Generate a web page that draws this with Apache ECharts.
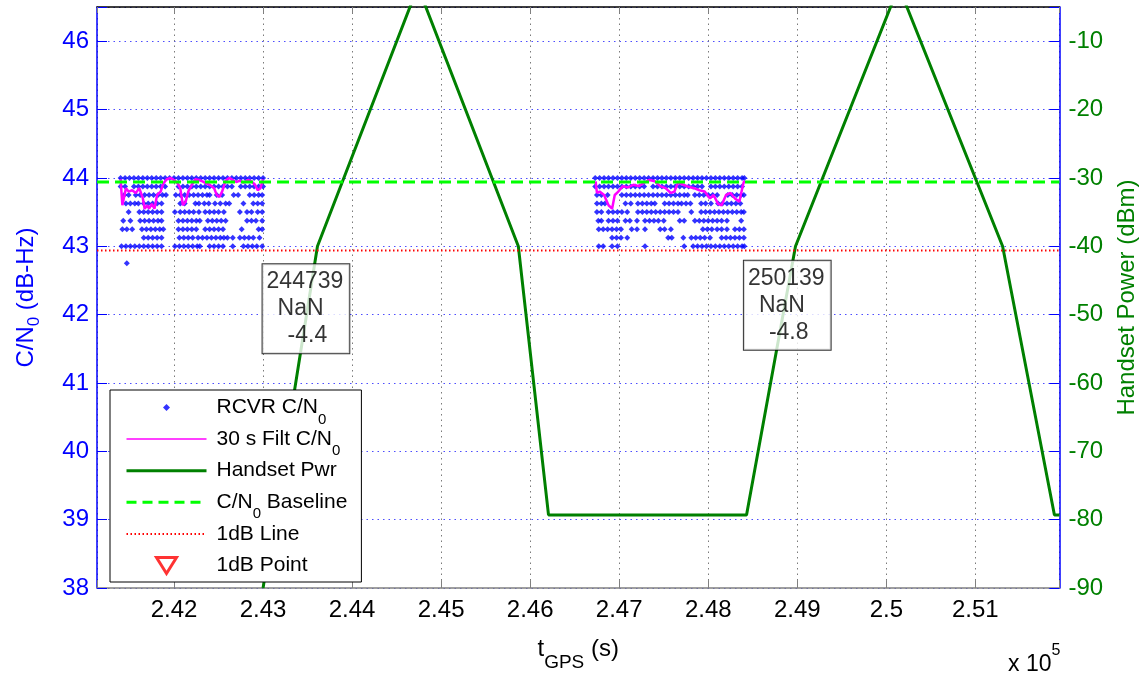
<!DOCTYPE html>
<html><head><meta charset="utf-8">
<script src="https://cdn.jsdelivr.net/npm/echarts@6/dist/echarts.min.js"></script>
<style>html,body{margin:0;padding:0;background:#fff}#c{width:1148px;height:677px}</style>
</head><body><div id="c"></div><script>
// ---------- data ----------
const X_MIN = 241135, X_MAX = 251944;
const LEFT_MIN = 38, LEFT_MAX = 46.5;
const RIGHT_MIN = -90, RIGHT_MAX = -5;

const cnLevels = [44.0, 43.875, 43.75, 43.625, 43.5, 43.375, 43.25, 43.125, 43.0];
const cnTimes1 = [
 [241400,241450,241500,241550,241600,241650,241700,241750,241800,241850,241900,241950,242000,242050,242100,242150,242200,242250,242300,242350,242400,242450,242500,242550,242600,242650,242700,242750,242800,242850,242900,242950,243000],
 [241400,241450,241550,241600,241650,241700,241750,241800,241850,241900,242050,242100,242150,242200,242250,242300,242350,242400,242450,242500,242550,242600,242650,242750,242800,242850,242900,242950,243000],
 [241440,241490,241570,241620,241670,241720,241770,241820,241870,241910,242020,242070,242120,242170,242220,242270,242320,242370,242400,242480,242540,242670,242720,242850,242900,242950,242990],
 [241460,241510,241560,241600,241660,241710,241760,241810,241860,242070,242120,242240,242280,242340,242390,242460,242520,242580,242620,242780,242890,242940,242990],
 [241490,241610,241660,241710,241760,241810,241860,242010,242070,242120,242170,242220,242280,242350,242400,242450,242500,242560,242740,242820,242870,242940,242990],
 [241430,241510,241620,241670,241720,241770,241820,241860,242050,242100,242150,242200,242250,242290,242380,242430,242480,242530,242580,242820,242870,242920,242990],
 [241420,241470,241530,241640,241690,241740,241790,241840,241880,242050,242100,242150,242200,242250,242350,242400,242450,242500,242550,242760,242950,242990],
 [241660,241710,241760,241810,241860,242060,242110,242160,242210,242270,242320,242370,242420,242470,242520,242560,242600,242660,242740,242790,242840,242890,242960],
 [241410,241460,241510,241560,241610,241660,241710,241760,241810,241860,242010,242060,242110,242160,242210,242260,242290,242400,242450,242500,242550,242660,242780,242830,242880,242930,242990]
];
const cnTimes2 = [
 [246730,246780,246830,246880,246930,246980,247030,247080,247130,247180,247230,247280,247330,247380,247430,247480,247530,247580,247630,247680,247730,247780,247830,247880,247930,247980,248030,248080,248130,248180,248230,248280,248330,248380,248405],
 [246730,246780,246830,246880,246930,246980,247030,247080,247130,247180,247230,247280,247380,247430,247480,247530,247580,247630,247680,247730,247780,247830,247880,247930,248030,248080,248130,248180,248230,248280,248330,248380],
 [246750,246800,246870,247030,247080,247130,247180,247230,247280,247330,247380,247430,247480,247530,247580,247630,247680,247730,247770,247850,247900,247950,248000,248050,248100,248220,248270,248320,248370,248400],
 [246750,246800,246840,247070,247130,247210,247260,247310,247360,247400,247510,247560,247610,247660,247700,247750,247800,247920,247970,248030,248110,248160,248210,248260,248310,248360],
 [246750,246800,246880,246930,246980,247030,247090,247210,247260,247310,247360,247410,247460,247510,247560,247610,247660,247810,247920,247970,248020,248070,248120,248170,248220,248270,248320,248370,248400],
 [246765,246800,246880,246930,246980,247070,247120,247200,247290,247340,247390,247440,247500,247680,247730,247850,247900,247950,248000,248050,248100,248150,248210,248370],
 [246770,246820,246870,246920,246970,247020,247140,247200,247290,247460,247510,247580,247940,247990,248040,248100,248150,248210,248300,248350,248400],
 [246920,246970,247020,247090,247550,247590,247720,247810,247860,247910,247960,248020,248150,248200,248250,248300,248350,248400],
 [246770,246820,246920,246980,247290,247730,247830,247880,247930,247980,248030,248080,248130,248180,248230,248280,248330,248380,248405]
];
const outlierT = [241470];
const outlierV = [42.75];

const filt1T = [241400,241420,241440,241460,241490,241530,241570,241610,241650,241670,241700,241720,241750,241780,241810,241850,241880,241920,241960,242000,242040,242070,242100,242130,242160,242200,242240,242280,242320,242360,242400,242450,242480,242510,242540,242580,242620,242660,242700,242740,242780,242830,242870,242910,242940,242970,243000];
const filt1V = [43.98,43.6,43.62,43.85,43.8,43.82,43.78,43.85,43.7,43.55,43.6,43.55,43.62,43.55,43.75,43.8,43.92,43.98,44.0,43.97,43.92,43.85,43.6,43.65,43.8,43.9,43.98,43.97,43.95,43.92,43.9,43.85,43.75,43.72,43.8,43.96,44.0,43.97,43.94,43.96,43.93,43.97,43.95,43.9,43.82,43.85,43.98];
const filt2T = [246735,246750,246780,246830,246880,246920,246950,246990,247040,247100,247160,247220,247280,247340,247400,247460,247520,247580,247620,247660,247720,247780,247840,247900,247960,248020,248060,248110,248150,248200,248250,248300,248350,248390,248405];
const filt2V = [43.95,43.78,43.8,43.75,43.6,43.55,43.75,43.8,43.88,43.86,43.9,43.88,43.93,43.97,43.95,43.88,43.85,43.78,43.8,43.93,43.9,43.87,43.85,43.82,43.8,43.7,43.75,43.62,43.6,43.75,43.78,43.7,43.65,43.9,43.96];

const pwrT = [243000,243611,244739,245867,246206,248430,248980,250139,251306,251888,251944];
const pwrP = [-90,-40,-2,-40,-79.3,-79.3,-40,-2,-40,-79.3,-79.3];

const baselineCN = 43.94;
const oneDbCN = 42.94;

const annT = [243000, 248406];
const annV = [42.73, 42.78];
const annLines = [['244739','NaN','-4.4'], ['250139','NaN','-4.8']];

// ---------- build ----------
const FONT = '"Liberation Sans", Arial, Helvetica, sans-serif';
const cnData = [];
[cnTimes1, cnTimes2].forEach(cl => cl.forEach((row, i) => row.forEach(t => cnData.push([t, cnLevels[i]]))));
outlierT.forEach((t, i) => cnData.push([t, outlierV[i]]));
const filt1 = filt1T.map((t, i) => [t, filt1V[i]]);
const filt2 = filt2T.map((t, i) => [t, filt2V[i]]);
const pwr = pwrT.map((t, i) => [t, pwrP[i]]);
const ann = annT.map((t, i) => ({value: [t, annV[i]], lines: annLines[i]}));

const legendRich = {
  s: {fontSize: 15, lineHeight: 16, padding: [24, 0, 0, 0], fontFamily: FONT, color: '#000'}
};
const legendNames = {
  'RCVR C/N0': 'RCVR C/N{s|0}',
  '30 s Filt C/N0': '30 s Filt C/N{s|0}',
  'Handset Pwr': 'Handset Pwr{s| }',
  'C/N0 Baseline': 'C/N{s|0} Baseline',
  '1dB Line': '1dB Line{s| }',
  '1dB Point': '1dB Point{s| }'
};
const noSym = {opacity: 0, color: 'rgba(0,0,0,0)', borderWidth: 0};

const chart = echarts.init(document.getElementById('c'), null, {renderer: 'canvas'});
chart.setOption({
  animation: false,
  backgroundColor: '#fff',
  grid: {left: 97, right: 85, top: 7, bottom: 82, containLabel: false},
  xAxis: [{
    type: 'value', min: X_MIN, max: X_MAX, splitNumber: 10, minInterval: 1000, maxInterval: 1000,
    position: 'bottom',
    axisLine: {show: true, onZero: false, lineStyle: {color: '#808080', width: 1.5}},
    axisTick: {show: true, inside: true, length: 8, lineStyle: {color: '#808080'}},
    axisLabel: {
      margin: 10, color: '#000', fontSize: 24, fontFamily: FONT,
      formatter: v => (Math.round(v) % 1000 === 0) ? String(+(v / 1e5).toFixed(2)) : ''
    },
    splitLine: {show: true, lineStyle: {color: '#7a7a7a', type: [1.5, 4], width: 1}},
    name: 't{s|GPS} (s)', nameLocation: 'middle', nameGap: 32,
    nameTextStyle: {color: '#000', fontSize: 24, fontFamily: FONT, lineHeight: 26,
      rich: {s: {fontSize: 19, lineHeight: 19, padding: [26, 0, 0, 0], fontFamily: FONT, color: '#000'}}}
  }, {
    type: 'value', min: X_MIN, max: X_MAX, splitNumber: 10, minInterval: 1000, maxInterval: 1000,
    position: 'top',
    axisLine: {show: true, onZero: false, lineStyle: {color: '#000', width: 1.5}},
    axisTick: {show: true, inside: true, length: 6, lineStyle: {color: '#808080'}},
    axisLabel: {show: false},
    splitLine: {show: false}
  }],
  yAxis: [{
    type: 'value', min: LEFT_MIN, max: LEFT_MAX, interval: 1, position: 'left',
    axisLine: {show: true, onZero: false, lineStyle: {color: '#0000ff', width: 1.5}},
    axisTick: {show: true, inside: true, length: 10, lineStyle: {color: '#0000ff'}},
    axisLabel: {margin: 8, color: '#0000ff', fontSize: 24, fontFamily: FONT,
      formatter: v => Number.isInteger(v) ? String(v) : ''},
    splitLine: {show: true, lineStyle: {color: '#4d4dff', type: [1.5, 4], width: 1}},
    name: 'C/N{s|0} (dB-Hz)', nameLocation: 'middle', nameRotate: 90, nameGap: 58,
    nameTextStyle: {color: '#0000ff', fontSize: 24, fontFamily: FONT, lineHeight: 26,
      rich: {s: {fontSize: 17, lineHeight: 17, padding: [16, 0, 0, 0], fontFamily: FONT, color: '#0000ff'}}}
  }, {
    type: 'value', min: RIGHT_MIN, max: RIGHT_MAX, interval: 10, position: 'right',
    axisLine: {show: true, onZero: false, lineStyle: {color: '#0000ff', width: 1.5}},
    axisTick: {show: true, inside: true, length: 10, lineStyle: {color: '#0000ff'}},
    axisLabel: {margin: 9, color: '#008000', fontSize: 24, fontFamily: FONT,
      formatter: v => (v % 10 === 0) ? String(v) : ''},
    splitLine: {show: false},
    name: 'Handset Power (dBm)', nameLocation: 'middle', nameRotate: 90, nameGap: 53,
    nameTextStyle: {color: '#008000', fontSize: 24, fontFamily: FONT, lineHeight: 26}
  }],
  legend: {
    orient: 'vertical', left: 110, top: 390,
    padding: [-2, 14, -3, 15],
    itemWidth: 80, itemHeight: 18, itemGap: -7.4,
    backgroundColor: '#fff', borderColor: '#000', borderWidth: 1, borderRadius: 0,
    z: 20,
    selectedMode: false,
    textStyle: {fontSize: 21, lineHeight: 22, fontFamily: FONT, color: '#000', padding: [0, 0, 0, 5], rich: legendRich},
    formatter: n => legendNames[n] || n,
    data: [
      {name: 'RCVR C/N0', icon: 'path://M0,0M80,18M40,5.5L43.5,9L40,12.5L36.5,9Z'},
      {name: '30 s Filt C/N0', lineStyle: {width: 1.5, color: '#ff00ff'}, itemStyle: noSym},
      {name: 'Handset Pwr', lineStyle: {width: 3, color: '#008000'}, itemStyle: noSym},
      {name: 'C/N0 Baseline', lineStyle: {width: 3, color: '#00ff00', type: [10, 6]}, itemStyle: noSym},
      {name: '1dB Line', lineStyle: {width: 2, color: '#ff0000', type: [1.5, 2.5]}, itemStyle: noSym},
      {name: '1dB Point', icon: 'path://M0,0M80,18M30,1L50,1L40,17Z',
        itemStyle: {color: '#fff', borderColor: '#ff0000', borderWidth: 3}}
    ]
  },
  series: [
    {name: 'RCVR C/N0', type: 'scatter', data: cnData, symbol: 'diamond', symbolSize: 6,
      itemStyle: {color: '#0000ff'}, z: 2, silent: true},
    {name: '30 s Filt C/N0', type: 'line', data: filt1, showSymbol: false, symbol: 'none',
      lineStyle: {color: '#ff00ff', width: 2.5}, itemStyle: {color: '#ff00ff'}, z: 3, silent: true},
    {name: '30 s Filt C/N0', type: 'line', data: filt2, showSymbol: false, symbol: 'none',
      lineStyle: {color: '#ff00ff', width: 2.5}, itemStyle: {color: '#ff00ff'}, z: 3, silent: true},
    {name: 'Handset Pwr', type: 'line', yAxisIndex: 1, data: pwr, symbol: 'none',
      lineStyle: {color: '#008000', width: 3}, itemStyle: {color: '#008000'}, z: 3, silent: true},
    {name: 'C/N0 Baseline', type: 'line', data: [[X_MIN, baselineCN], [X_MAX, baselineCN]], symbol: 'none',
      lineStyle: {color: '#00ff00', width: 3, type: [12, 6]}, itemStyle: {color: '#00ff00'}, z: 4, silent: true},
    {name: '1dB Line', type: 'line', data: [[X_MIN, oneDbCN], [X_MAX, oneDbCN]], symbol: 'none',
      lineStyle: {color: '#ff0000', width: 2, type: [1.5, 2.5]}, itemStyle: {color: '#ff0000'}, z: 4, silent: true},
    {name: '1dB Point', type: 'scatter', data: [], symbol: 'triangle', symbolRotate: 180, symbolSize: 18,
      itemStyle: {color: '#fff', borderColor: '#ff0000', borderWidth: 3}},
    {name: 'ann', type: 'scatter', data: ann, symbolSize: 1, itemStyle: {color: 'rgba(0,0,0,0)'}, z: 10, silent: true,
      label: {
        show: true, position: [0, 0], align: 'left', verticalAlign: 'top',
        backgroundColor: '#fff', borderColor: '#000', borderWidth: 1, padding: [4, 6, 4, 4],
        color: '#000', fontSize: 23, fontFamily: FONT, lineHeight: 27,
        formatter: p => '{a|' + p.data.lines[0] + '}\n{b|' + p.data.lines[1] + '}\n{c|' + p.data.lines[2] + '}',
        rich: {
          a: {fontSize: 23, lineHeight: 27, fontFamily: FONT, color: '#000'},
          b: {fontSize: 23, lineHeight: 27, fontFamily: FONT, color: '#000', padding: [0, 0, 0, 11]},
          c: {fontSize: 23, lineHeight: 27, fontFamily: FONT, color: '#000', padding: [0, 0, 0, 21]}
        }
      }}
  ],
  graphic: [{
    type: 'text', left: 1008, top: 643, z: 30, silent: true,
    style: {
      text: 'x 10{p|5}', fill: '#000', font: '23px ' + FONT, lineHeight: 24,
      rich: {p: {fontSize: 16, lineHeight: 16, padding: [0, 0, 27, 0], fontFamily: FONT, fill: '#000'}}
    }
  }]
});
</script></body></html>
